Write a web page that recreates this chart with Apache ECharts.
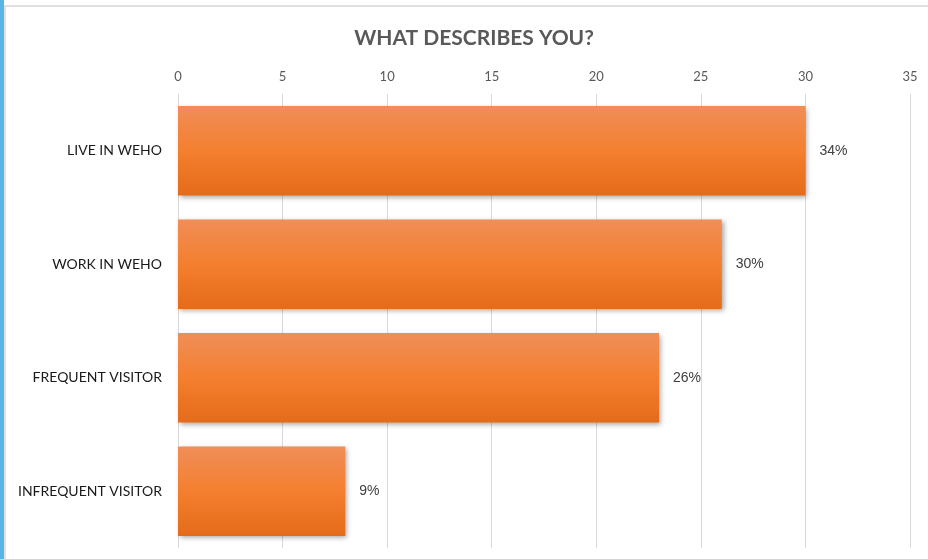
<!DOCTYPE html>
<html>
<head>
<meta charset="utf-8">
<style>
  html, body { margin: 0; padding: 0; background: #ffffff; }
  #chart { width: 928px; height: 559px; }
</style>
<script src="https://cdn.jsdelivr.net/npm/echarts@6/dist/echarts.min.js"></script>
</head>
<body>
<div id="chart"></div>
<script>
// Survey responses: respondent counts per group
const categories = ['LIVE IN WEHO', 'WORK IN WEHO', 'FREQUENT VISITOR', 'INFREQUENT VISITOR'];
const counts = [30, 26, 23, 8];
const axisTicks = [0, 5, 10, 15, 20, 25, 30, 35];

const total = counts.reduce((a, b) => a + b, 0);

const chart = echarts.init(document.getElementById('chart'), null, { renderer: 'canvas' });

chart.setOption({
  animation: false,
  backgroundColor: '#ffffff',
  title: {
    text: 'WHAT DESCRIBES YOU?',
    left: 469,
    textAlign: 'center',
    top: 23,
    textStyle: {
      fontFamily: 'Lato',
      fontWeight: 'bold',
      fontSize: 21,
      color: '#595959'
    }
  },
  graphic: [
    { type: 'rect', shape: { x: 0, y: 0, width: 4, height: 559 }, style: { fill: '#5ab4e4' } },
    { type: 'rect', shape: { x: 4, y: 5, width: 924, height: 2 }, style: { fill: '#e0e0e0' } },
    { type: 'rect', shape: { x: 4, y: 5, width: 2, height: 554 }, style: { fill: '#e0e0e0' } }
  ],
  grid: {
    left: 178,
    right: 18,
    top: 94,
    bottom: 11,
    containLabel: false
  },
  xAxis: {
    type: 'value',
    position: 'top',
    min: axisTicks[0],
    max: axisTicks[axisTicks.length - 1],
    interval: axisTicks[1] - axisTicks[0],
    axisLine: { show: false },
    axisTick: { show: false },
    axisLabel: {
      margin: 11,
      fontFamily: 'Lato',
      fontSize: 13,
      color: '#595959'
    },
    splitLine: { show: true, lineStyle: { color: '#d9d9d9', width: 1 } }
  },
  yAxis: {
    type: 'category',
    data: categories,
    inverse: true,
    axisLine: { show: false },
    axisTick: { show: false },
    axisLabel: {
      margin: 16,
      fontFamily: 'Lato',
      fontSize: 14,
      color: '#1a1a1a'
    }
  },
  series: [{
    type: 'bar',
    data: counts,
    barCategoryGap: '21%',
    itemStyle: {
      color: new echarts.graphic.LinearGradient(0, 0, 0, 1, [
        { offset: 0, color: '#f08e58' },
        { offset: 0.5, color: '#f47f2e' },
        { offset: 1, color: '#e46b1a' }
      ]),
      shadowColor: 'rgba(0,0,0,0.35)',
      shadowBlur: 5,
      shadowOffsetX: 2,
      shadowOffsetY: 2
    },
    label: {
      show: true,
      position: 'right',
      distance: 14,
      fontFamily: 'Liberation Sans',
      fontSize: 14,
      color: '#404040',
      formatter: p => Math.round(p.value / total * 100) + '%'
    }
  }]
});
</script>
</body>
</html>
